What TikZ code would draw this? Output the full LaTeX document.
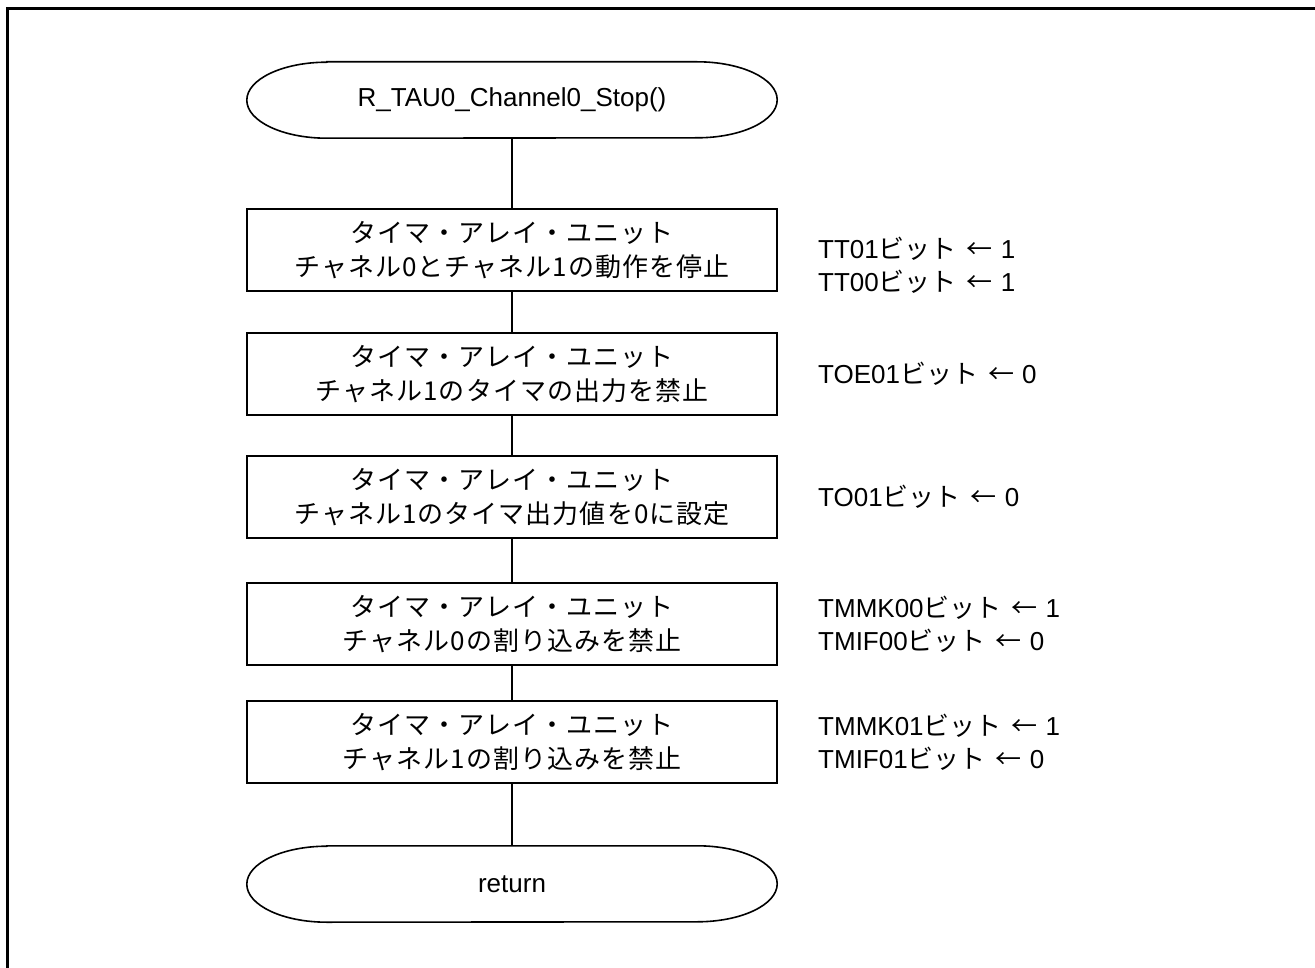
\documentclass[tikz,border=0pt]{standalone}
\usepackage{fontspec}
\setmainfont{Liberation Sans}
\newfontfamily\jp{Noto Sans CJK JP}
\newfontfamily\jpbox[LetterSpace=4]{Noto Sans CJK JP}
\begin{document}
\begin{tikzpicture}[x=1pt,y=-1pt,
  proc/.style={draw, line width=1.6pt, minimum width=530pt, minimum height=82pt, align=center, font=\jpbox\fontsize{26}{34}\selectfont, inner sep=0pt},
  term/.style={minimum width=530pt, minimum height=76pt, font=\fontsize{26}{30}\selectfont, inner sep=0pt},
  lbl/.style={anchor=west, align=left, font=\fontsize{26}{33}\selectfont, inner sep=0pt},
  link/.style={line width=1.6pt},
  outline/.style={line width=1.6pt}]
\newcommand\bitset[2]{#1{\jp ビット}\hspace{10pt}{\jp ←}\hspace{8pt}#2}
\useasboundingbox (0,0) rectangle (1315,968);
\begin{scope}
\clip (0,0) rectangle (1315,968);
\draw[line width=3pt] (7.5,1100) -- (7.5,8.5) -- (1400,8.5);
\end{scope}

\node[term] (s) at (512,100) {R\_TAU0\_Channel0\_Stop()};
\node[proc] (b1) at (512,250) {タイマ・アレイ・ユニット\\チャネル0とチャネル1の動作を停止};
\node[proc] (b2) at (512,374) {タイマ・アレイ・ユニット\\チャネル1のタイマの出力を禁止};
\node[proc] (b3) at (512,497) {タイマ・アレイ・ユニット\\チャネル1のタイマ出力値を0に設定};
\node[proc] (b4) at (512,624) {タイマ・アレイ・ユニット\\チャネル0の割り込みを禁止};
\node[proc] (b5) at (512,742) {タイマ・アレイ・ユニット\\チャネル1の割り込みを禁止};
\node[term] (r) at (512,884) {return};

\foreach \n in {s,r}{
  \draw[outline] ([xshift=80pt]\n.north west) -- ([xshift=-80pt]\n.north east)
    arc[start angle=90, end angle=-90, x radius=80pt, y radius=38pt]
    -- ([xshift=80pt]\n.south west)
    arc[start angle=270, end angle=90, x radius=80pt, y radius=38pt] -- cycle;
}

\draw[link] (s) -- (b1);
\draw[link] (b1) -- (b2);
\draw[link] (b2) -- (b3);
\draw[link] (b3) -- (b4);
\draw[link] (b4) -- (b5);
\draw[link] (b5) -- (r);

\node[lbl] (l1) at (818,265) {\bitset{TT01}{1}\\\bitset{TT00}{1}};
\node[lbl] (l2) at (818,374) {\bitset{TOE01}{0}};
\node[lbl] (l3) at (818,497) {\bitset{TO01}{0}};
\node[lbl] (l4) at (818,624) {\bitset{TMMK00}{1}\\\bitset{TMIF00}{0}};
\node[lbl] (l5) at (818,742) {\bitset{TMMK01}{1}\\\bitset{TMIF01}{0}};
\end{tikzpicture}
\end{document}
